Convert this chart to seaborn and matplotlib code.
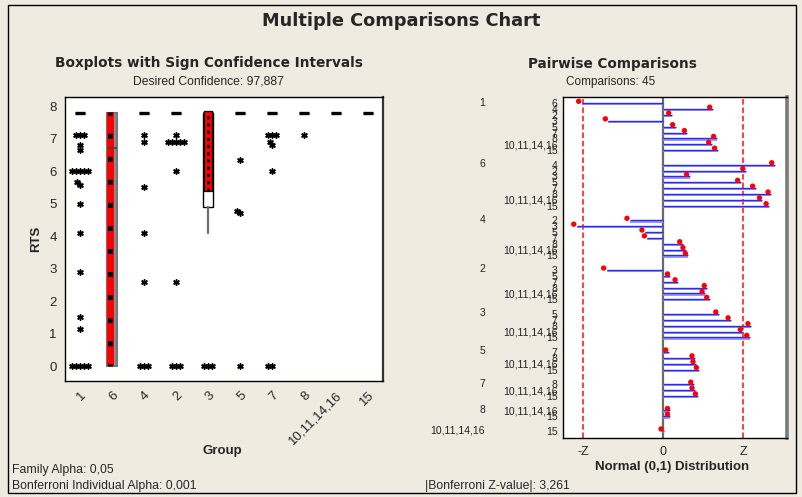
import numpy as np
import pandas as pd
import matplotlib
matplotlib.use("Agg")
import matplotlib.pyplot as plt
import matplotlib.transforms as mtransforms
from matplotlib.patches import Rectangle
import seaborn as sns

# ---------------- data ----------------
groups = ["1", "6", "4", "2", "3", "5", "7", "8", "10,11,14,16", "15"]

# outlying RTS observations per group (asterisks)
out_1 = [7.1, 7.1, 7.1, 6.8, 6.65, 6.0, 6.0, 6.0, 6.0, 6.0, 5.66, 5.58, 5.0, 4.1, 2.9, 1.5, 1.15, 0, 0, 0, 0, 0]
out_6 = []
out_4 = [7.1, 6.9, 5.5, 4.1, 2.6, 0, 0, 0]
out_2 = [7.1, 6.9, 6.9, 6.9, 6.9, 6.9, 6.0, 2.6, 0, 0, 0]
out_3 = [0, 0, 0]
out_5 = [6.35, 4.78, 4.72, 0]
out_7 = [7.1, 7.1, 7.1, 6.9, 6.8, 6.0, 0, 0]
out_8 = [7.1]
out_10 = []
out_15 = []
outliers = [out_1, out_6, out_4, out_2, out_3, out_5, out_7, out_8, out_10, out_15]

# box statistics per group
box_q1 = [7.8, 0.0, 7.8, 7.8, 4.9, 7.8, 7.8, 7.8, 7.8, 7.8]
box_med = [7.8, 6.72, 7.8, 7.8, 7.8, 7.8, 7.8, 7.8, 7.8, 7.8]
box_q3 = [7.8, 7.8, 7.8, 7.8, 7.8, 7.8, 7.8, 7.8, 7.8, 7.8]
whis_lo = [7.8, 0.0, 7.8, 7.8, 4.1, 7.8, 7.8, 7.8, 7.8, 7.8]
whis_hi = [7.8, 7.8, 7.8, 7.8, 7.8, 7.8, 7.8, 7.8, 7.8, 7.8]
# sign confidence intervals for the median (only where visible)
ci_groups = ["6", "3"]
ci_lo = [0.0, 5.38]
ci_hi = [7.82, 7.84]

# pairwise z values (first group vs later groups in order)
first_groups = ["1", "6", "4", "2", "3", "5", "7", "8", "10,11,14,16"]
z_1 = [-3.33, 2.01, 0.34, -2.24, 0.50, 0.98, 2.17, 1.97, 2.21]
z_6 = [4.54, 3.36, 1.07, 3.15, 3.76, 4.39, 4.04, 4.31]
z_4 = [-1.36, -3.53, -0.75, -0.65, 0.79, 0.92, 1.02]
z_2 = [-2.31, 0.29, 0.60, 1.79, 1.70, 1.89]
z_3 = [2.26, 2.76, 3.57, 3.26, 3.52]
z_5 = [0.22, 1.29, 1.33, 1.47]
z_7 = [1.24, 1.29, 1.43]
z_8 = [0.29, 0.29]
z_10 = [0.03]
z_lists = [z_1, z_6, z_4, z_2, z_3, z_5, z_7, z_8, z_10]
z_crit = 3.261

# ---------------- style ----------------
sns.set_style("white")
plt.rcParams["font.family"] = ["Liberation Sans", "DejaVu Sans"]
plt.rcParams["lines.scale_dashes"] = False
BG = "#EFEBE1"
BOLD = ["DejaVu Sans"]

fig = plt.figure(figsize=(8.02, 4.97), dpi=100, facecolor=BG)
W, H = 802, 497


def fx(px):
    return px / W


def fy(py):
    return 1 - py / H


# outer frame
fig.patches.append(Rectangle((fx(8), fy(493)), fx(788), (488) / H, transform=fig.transFigure,
                             fill=False, edgecolor="black", lw=1.0))

fig.text(0.5, fy(21), "Multiple Comparisons Chart", ha="center", va="center",
         fontsize=12.8, fontweight="bold", family=BOLD)

# ---------------- left panel ----------------
ax = fig.add_axes([fx(65), fy(381), fx(383 - 65), (381 - 97) / H])
ax.set_facecolor("white")

odf = pd.DataFrame({
    "group": [g for g, vals in zip(groups, outliers) for _ in vals],
    "rts": [v for vals in outliers for v in vals],
})
n_before = len(ax.collections)
sns.swarmplot(data=odf, x="group", y="rts", order=groups, color="black",
              marker=(6, 2, 0), size=2.6, linewidth=0, ax=ax, zorder=3)
swarm_colls = ax.collections[n_before:]

stats = [dict(med=m, q1=a, q3=b, whislo=lo, whishi=hi, fliers=[])
         for m, a, b, lo, hi in zip(box_med, box_q1, box_q3, whis_lo, whis_hi)]
pos = np.arange(len(groups))
bp = ax.bxp(stats, positions=pos, widths=0.34, patch_artist=True, showfliers=False,
            showcaps=False, manage_ticks=False,
            boxprops=dict(facecolor="white", edgecolor="black", lw=1.0),
            medianprops=dict(color="black", lw=2.4, solid_capstyle="butt"),
            whiskerprops=dict(color="#6e6e6e", lw=1.6))
i6 = groups.index("6")
bp["boxes"][i6].set_facecolor("#8c8c8c")
bp["boxes"][i6].set_edgecolor("#777777")
bp["boxes"][i6].set_linewidth(1.5)
bp["medians"][i6].set_color("#444444")
bp["medians"][i6].set_linewidth(1.2)
bp["medians"][i6].set_zorder(5)

for g, lo, hi in zip(ci_groups, ci_lo, ci_hi):
    p = groups.index(g)
    if g == "6":
        ax.bar(p - 0.05, hi - lo, bottom=lo, width=0.22, color="#ff0000", edgecolor="none", zorder=3)
        ax.vlines(p - 0.05, lo, hi, colors="black", lw=3.6, linestyles=(2, (3.6, 13.0)), zorder=4)
    else:
        ax.bar(p, hi - lo, bottom=lo, width=0.22, color="#ff0000", edgecolor="black", lw=0.9, zorder=3)
        ax.vlines(p, lo, hi, colors="black", lw=2.0, linestyles=(0, (2.2, 3.0)), zorder=4)

ax.set_xlim(-0.47, 9.47)
ax.set_ylim(-0.46, 8.28)
ax.set_xticks(pos)
ax.set_xticklabels(groups, rotation=45, ha="right", rotation_mode="anchor", fontsize=9.5)
ax.set_yticks(range(0, 9))
ax.set_yticklabels([str(i) for i in range(0, 9)], fontsize=9.5)
ax.tick_params(axis="both", direction="out", length=4, width=1, color="black", pad=2)
ax.set_xlabel("Group", fontsize=9.5, fontweight="bold")
ax.set_ylabel("RTS", fontsize=9.5, fontweight="bold")
ax.xaxis.set_label_coords(0.495, -0.226)
ax.yaxis.set_label_coords(-0.072, 0.5)
for s in ["left", "top", "bottom"]:
    ax.spines[s].set_color("black")
    ax.spines[s].set_linewidth(1.0)
ax.spines["right"].set_color("#333333")
ax.spines["right"].set_linewidth(1.6)

fig.text(fx(209), fy(63), "Boxplots with Sign Confidence Intervals", ha="center", va="center",
         fontsize=9.85, fontweight="bold", family=BOLD)
fig.text(fx(208), fy(81), "Desired Confidence: 97,887", ha="center", va="center", fontsize=8.7)

# ---------------- right panel ----------------
ax2 = fig.add_axes([fx(563), fy(438), fx(787 - 563), (438 - 96.7) / H])
ax2.set_facecolor("white")

rows = []
for gi, (g, zs) in enumerate(zip(first_groups, z_lists)):
    for g2, z in zip(groups[gi + 1:], zs):
        rows.append(dict(first=g, second=g2, z=z, pos=len(rows) + 1.5 * gi))
pw = pd.DataFrame(rows)

ax2.axvline(0, color="#6a6a6a", lw=1.6, zorder=2)
for xv in (-z_crit, z_crit):
    ax2.axvline(xv, color="#ff2020", lw=1.2, linestyle=(0, (4.0, 2.0)), zorder=2)
# line with a lighter shadow underneath
ax2.hlines(pw["pos"] + 0.2, 0, pw["z"], colors="#8c8cff", lw=1.3, zorder=3)
ax2.hlines(pw["pos"], 0, pw["z"], colors="#2a2af0", lw=1.0, zorder=3)
off = mtransforms.offset_copy(ax2.transData, fig=fig, x=-3, y=2, units="dots")
sns.scatterplot(data=pw, x="z", y="pos", color="#ff0000", s=15, edgecolor="none",
                transform=off, legend=False, ax=ax2, zorder=4)

ax2.set_xlim(-4.09, 5.04)
ax2.set_ylim(57.2, -1.13)
ax2.set_yticks(pw["pos"])
ax2.set_yticklabels(pw["second"], fontsize=7.5, color="#222222")
ax2.set_xticks([-z_crit, 0, z_crit])
ax2.set_xticklabels(["-Z", "0", "Z"], fontsize=9)
ax2.tick_params(axis="y", direction="out", length=3, width=0.8, pad=1)
ax2.tick_params(axis="x", direction="out", length=4, width=1, pad=2)
ax2.set_xlabel("Normal (0,1) Distribution", fontsize=9.5, fontweight="bold")
ax2.set_ylabel("")
ax2.xaxis.set_label_coords(0.485, -0.068)
for s in ["left", "top", "bottom"]:
    ax2.spines[s].set_color("black")
    ax2.spines[s].set_linewidth(1.0)
ax2.spines["right"].set_color("#7a7a7a")
ax2.spines["right"].set_linewidth(2.6)

blend = mtransforms.blended_transform_factory(ax2.transAxes, ax2.transData)
first_pos = pw.groupby("first", sort=False)["pos"].min()
for g in first_groups:
    ax2.text(-0.348, first_pos[g] - 0.1, g, transform=blend, ha="right", va="center",
             fontsize=7.5, color="#222222")

fig.text(fx(612), fy(64), "Pairwise Comparisons", ha="center", va="center",
         fontsize=9.8, fontweight="bold", family=BOLD)
fig.text(fx(611), fy(81.5), "Comparisons: 45", ha="center", va="center", fontsize=8.5)

# ---------------- footer ----------------
fig.text(fx(12), fy(470.5), "Family Alpha: 0,05", ha="left", va="center", fontsize=8.8)
fig.text(fx(12), fy(486), "Bonferroni Individual Alpha: 0,001", ha="left", va="center", fontsize=8.8)
fig.text(fx(425), fy(486), "|Bonferroni Z-value|: 3,261", ha="left", va="center", fontsize=8.8)

# let seaborn lay out the swarm with tight spacing, then draw the asterisks a bit
# larger so that neighbouring ones touch, as in the original
fig.canvas.draw()
for coll in swarm_colls:
    if "draw" in coll.__dict__:
        del coll.draw
    coll.set_sizes([15])
    coll.set_linewidth(1.1)
    coll.set_edgecolor("black")
    coll.set_facecolor("black")

fig.savefig("out.png", dpi=100, facecolor=BG)
